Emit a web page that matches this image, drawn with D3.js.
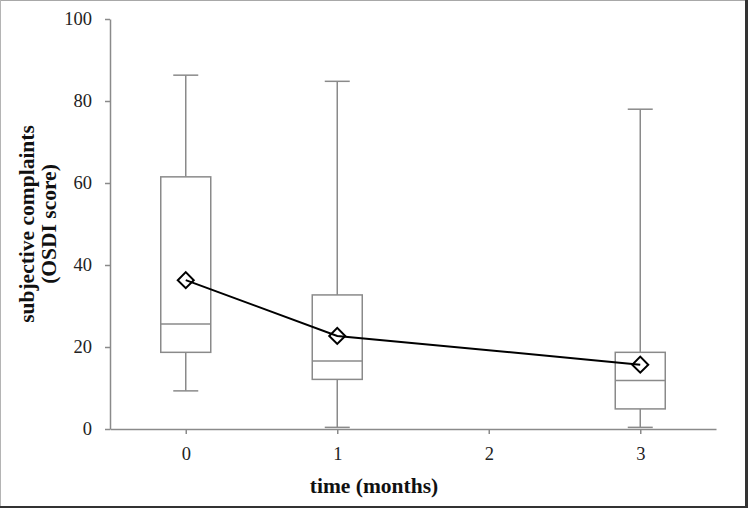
<!DOCTYPE html>
<html>
<head>
<meta charset="utf-8">
<script src="https://cdn.jsdelivr.net/npm/d3@7/dist/d3.min.js"></script>
<style>
  html, body { margin: 0; padding: 0; background: #fff; }
  svg { display: block; }
</style>
</head>
<body>
<svg id="chart" width="748" height="508"></svg>
<script>
// ---- data ----
const months      = [0, 1, 3];
const whiskerLow  = [9.3, 0.4, 0.4];
const q1          = [18.7, 12.1, 4.9];
const median      = [25.6, 16.6, 11.8];
const q3          = [61.5, 32.7, 18.7];
const whiskerHigh = [86.3, 84.8, 78.0];
const meanScore   = [36.3, 22.7, 15.7];
const xTicks = [0, 1, 2, 3];
const yTicks = [0, 20, 40, 60, 80, 100];
const xTitle = "time (months)";
const yTitle = ["subjective complaints", "(OSDI score)"];

// ---- layout ----
const W = 748, H = 508;
const svg = d3.select("#chart");
const axisColor = "#8a8a8a";
const font = "'Liberation Serif', 'Times New Roman', serif";

const x = d3.scaleLinear().domain([-0.5, 3.5]).range([110, 716]);
const y = d3.scaleLinear().domain([0, 100]).range([429, 19]);

// frame
svg.append("rect").attr("x", 0).attr("y", 0).attr("width", W).attr("height", H).attr("fill", "#fff");
svg.append("line").attr("x1", 0).attr("x2", W).attr("y1", 0.5).attr("y2", 0.5).attr("stroke", "#a8a8a8");
svg.append("line").attr("x1", 0.5).attr("x2", 0.5).attr("y1", 0).attr("y2", H).attr("stroke", "#b4b4b4");
svg.append("line").attr("x1", W - 1.5).attr("x2", W - 1.5).attr("y1", 0).attr("y2", H).attr("stroke", "#333").attr("stroke-width", 3);
svg.append("line").attr("x1", 0).attr("x2", W).attr("y1", H - 1).attr("y2", H - 1).attr("stroke", "#333").attr("stroke-width", 2);

// axes
const xAxis = d3.axisBottom(x).tickValues(xTicks).tickFormat(d3.format("d"))
  .tickSize(5).tickSizeOuter(0).tickPadding(13);
const yAxis = d3.axisLeft(y).tickValues(yTicks).tickFormat(d3.format("d"))
  .tickSize(5).tickSizeOuter(0).tickPadding(13);

const gx = svg.append("g").attr("transform", `translate(0,${y(0)})`).call(xAxis);
const gy = svg.append("g").attr("transform", `translate(${x(-0.5)},0)`).call(yAxis);
[gx, gy].forEach(g => {
  g.select(".domain").attr("stroke", axisColor).attr("stroke-width", 1.5);
  g.selectAll(".tick line").attr("stroke", axisColor).attr("stroke-width", 1.5);
  g.selectAll(".tick text").attr("fill", "#222").style("font-family", font).style("font-size", "18.5px");
});

// box plots
const boxW = 50, capW = 25;
const boxes = months.map((m, i) => ({
  m, lo: whiskerLow[i], q1: q1[i], med: median[i], q3: q3[i], hi: whiskerHigh[i]
}));
const gb = svg.append("g").attr("stroke", axisColor).attr("stroke-width", 1.5).attr("fill", "none");
const b = gb.selectAll("g.box").data(boxes).join("g").attr("class", "box");
// whiskers
b.append("line").attr("x1", d => x(d.m)).attr("x2", d => x(d.m)).attr("y1", d => y(d.q3)).attr("y2", d => y(d.hi));
b.append("line").attr("x1", d => x(d.m)).attr("x2", d => x(d.m)).attr("y1", d => y(d.q1)).attr("y2", d => y(d.lo));
b.append("line").attr("x1", d => x(d.m) - capW / 2).attr("x2", d => x(d.m) + capW / 2).attr("y1", d => y(d.hi)).attr("y2", d => y(d.hi));
b.append("line").attr("x1", d => x(d.m) - capW / 2).attr("x2", d => x(d.m) + capW / 2).attr("y1", d => y(d.lo)).attr("y2", d => y(d.lo));
// box
b.append("rect").attr("x", d => x(d.m) - boxW / 2).attr("width", boxW)
  .attr("y", d => y(d.q3)).attr("height", d => y(d.q1) - y(d.q3)).attr("fill", "#fff");
b.append("line").attr("x1", d => x(d.m) - boxW / 2).attr("x2", d => x(d.m) + boxW / 2)
  .attr("y1", d => y(d.med)).attr("y2", d => y(d.med));

// mean line
const meanPts = months.map((m, i) => [m, meanScore[i]]);
const line = d3.line().x(d => x(d[0])).y(d => y(d[1]));
svg.append("path").datum(meanPts).attr("d", line).attr("fill", "none")
  .attr("stroke", "#000").attr("stroke-width", 2);

// diamond markers
const diamond = d3.symbol().type(d3.symbolSquare).size(128);
svg.append("g").selectAll("path").data(meanPts).join("path")
  .attr("d", diamond)
  .attr("transform", d => `translate(${x(d[0])},${y(d[1])}) rotate(45)`)
  .attr("fill", "none").attr("stroke", "#000").attr("stroke-width", 2);

// axis titles
svg.append("text").attr("x", W / 2).attr("y", 493).attr("text-anchor", "middle")
  .style("font-family", font).style("font-size", "21.5px").style("font-weight", "bold")
  .attr("fill", "#111").text(xTitle);

const yt = svg.append("text").attr("transform", `translate(34,${(y(0) + y(100)) / 2}) rotate(-90)`)
  .attr("text-anchor", "middle").style("font-family", font).style("font-size", "21.5px")
  .style("font-weight", "bold").attr("fill", "#111");
yTitle.forEach((t, i) => {
  yt.append("tspan").attr("x", 0).attr("dy", i === 0 ? 0 : 22).text(t);
});
</script>
</body>
</html>
